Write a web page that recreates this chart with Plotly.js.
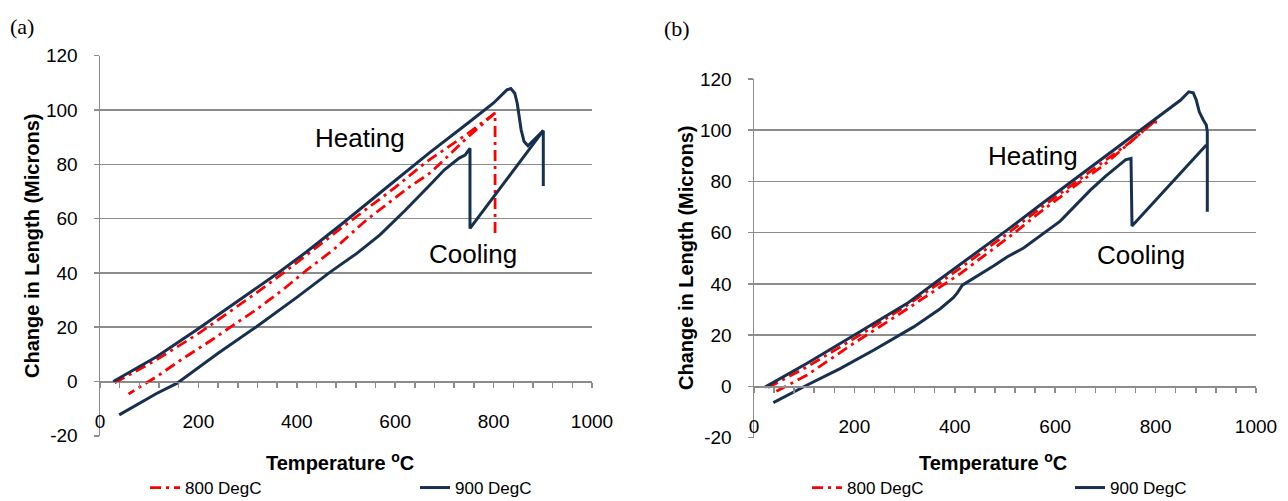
<!DOCTYPE html>
<html>
<head>
<meta charset="utf-8">
<script src="https://cdn.plot.ly/plotly-3.0.1.min.js"></script>
<style>
  html, body { margin: 0; padding: 0; background: #ffffff; overflow: hidden; }
  #chart { width: 1288px; height: 501px; }
</style>
</head>
<body>
<div id="chart"></div>
<script>
// ---------- Data ----------
// Panel (a): 900 DegC  (heating -> 900 hold -> cooling)
var tempA900 = [27, 60, 115, 196, 278, 359, 420, 494, 580, 670, 750, 800, 827, 835, 843, 848, 852, 856, 862, 870, 901, 901, null, 901, 752, 752, 742, 730, 700, 671, 620, 569, 522, 467, 400, 318, 240, 156, 115, 39];
var lenA900  = [0, 3.5, 9.1, 19, 29.4, 39.6, 47.8, 58.4, 71.1, 84.3, 95.5, 102.6, 107.4, 107.9, 106.2, 102.5, 97.6, 92.7, 88.4, 86.8, 92.4, 72, null, 92.4, 56.4, 85.9, 83.4, 82.3, 78, 72.5, 63, 54, 47.2, 40.2, 31, 20.2, 10.4, -0.7, -4.4, -12.3];
// Panel (a): 800 DegC
var tempA800 = [30, 115, 203, 312, 380, 494, 600, 664, 745, 803, 803, null, 803, 770, 745, 710, 671, 630, 542, 474, 420, 373, 318, 271, 227, 169, 115, 58];
var lenA800  = [-0.5, 8, 18, 31.9, 41, 57, 71.5, 81, 91, 98.9, 54.6, null, 98.9, 93.5, 89.6, 83.5, 76.8, 71.8, 59.6, 48.5, 41, 34, 26.5, 20.8, 15.3, 8.5, 1.8, -4.6];

// Panel (b): 900 DegC
var tempB900 = [22, 105, 205, 304.5, 371, 451, 504, 570, 640, 703, 780, 840, 850, 866, 875, 881, 887, 895, 901, 903, 903, null, 901, 753, 751, 740, 723, 700, 670, 610, 537, 504, 477, 437, 415, 405, 397, 371, 318, 238, 171.5, 105, 38.5];
var lenB900  = [-0.3, 8.9, 20.6, 32.3, 41.9, 53.2, 61, 70.8, 81, 90.3, 101.6, 110.4, 111.8, 115, 114.6, 111.8, 107.2, 104, 102, 99.4, 68.2, null, 94.2, 62.6, 89, 88.4, 85.7, 82, 76.6, 64.5, 54, 50.5, 47, 42.1, 39.5, 36.5, 34.6, 30.3, 23.2, 14.1, 6.9, 0.4, -6.4];
// Panel (b): 800 DegC
var tempB800 = [28, 105, 205, 300, 371, 450, 504, 570, 650, 703, 750, 800, 800, null, 800, 760, 696.5, 650, 610, 570, 517, 437, 411, 371, 291, 198, 105, 42];
var lenB800  = [-0.5, 7.5, 19.3, 31, 40.5, 52, 59.5, 69.5, 81, 88.6, 95.4, 103.9, 101, null, 103.9, 97, 86.3, 79.8, 74, 68, 59.6, 47.9, 44, 38.8, 28.4, 16.7, 4.3, -2.2];

var seriesNames = ['800 DegC', '900 DegC'];
var xTicks = [0, 200, 400, 600, 800, 1000];
var yTicks = [-20, 0, 20, 40, 60, 80, 100, 120];

// ---------- Styles ----------
var RED = '#FF0000';
var NAVY = '#17304F';
var GRID = '#8C8C8C';
var FONT = 'Liberation Sans, Arial, sans-serif';
var redLine = { color: RED, width: 2.8, dash: '11px,5px,3px,5px' };
var navyLine = { color: NAVY, width: 3 };

var traces = [
  { x: tempA800, y: lenA800, name: seriesNames[0], mode: 'lines', line: redLine, xaxis: 'x', yaxis: 'y', legend: 'legend', legendwidth: 225, connectgaps: false },
  { x: tempA900, y: lenA900, name: seriesNames[1], mode: 'lines', line: navyLine, xaxis: 'x', yaxis: 'y', legend: 'legend', connectgaps: false },
  { x: tempB800, y: lenB800, name: seriesNames[0], mode: 'lines', line: redLine, xaxis: 'x2', yaxis: 'y2', legend: 'legend2', legendwidth: 218, connectgaps: false },
  { x: tempB900, y: lenB900, name: seriesNames[1], mode: 'lines', line: navyLine, xaxis: 'x2', yaxis: 'y2', legend: 'legend2', connectgaps: false }
];

function xAxis(domain, pos) {
  return {
    domain: domain, range: [0, 1000], anchor: 'free', position: pos,
    tickvals: xTicks, ticktext: xTicks.map(String),
    showline: true, linecolor: GRID, linewidth: 1.5,
    ticks: 'outside', ticklen: 5, tickwidth: 1.5, tickcolor: GRID,
    minor: { dtick: 40, tick0: 0, ticks: 'outside', ticklen: 5, tickwidth: 1.5, tickcolor: GRID, showgrid: false },
    showgrid: false, zeroline: false, fixedrange: true, automargin: false,
    tickfont: { family: FONT, size: 19, color: '#000' },
    ticklabelstandoff: 17
  };
}
function yAxis(domain, anchor) {
  return {
    domain: domain, range: [-20, 120], anchor: anchor,
    tickvals: yTicks, ticktext: yTicks.map(String),
    showgrid: true, gridcolor: GRID, gridwidth: 1.5,
    showline: true, linecolor: GRID, linewidth: 1.5,
    ticks: 'outside', ticklen: 5, tickwidth: 1.5, tickcolor: GRID,
    zeroline: false, fixedrange: true, automargin: false,
    tickfont: { family: FONT, size: 19, color: '#000' },
    ticklabelstandoff: 12
  };
}

function px2x(p) { return p / 1288; }
function py2y(p) { return (501 - p) / 501; }

var annotations = [
  { text: '(a)', x: px2x(22), y: py2y(27), font: { family: 'Liberation Serif, Times New Roman, serif', size: 22, color: '#000' } },
  { text: '(b)', x: px2x(677), y: py2y(29), font: { family: 'Liberation Serif, Times New Roman, serif', size: 22, color: '#000' } },
  { text: '<b>Change in Length (Microns)</b>', x: px2x(32), y: py2y(246), textangle: -90, font: { family: FONT, size: 20, color: '#000' } },
  { text: '<b>Change in Length (Microns)</b>', x: px2x(686), y: py2y(258), textangle: -90, font: { family: FONT, size: 20, color: '#000' } },
  { text: '<b>Temperature <sup>o</sup>C</b>', x: px2x(340), y: py2y(461), font: { family: FONT, size: 20, color: '#000' } },
  { text: '<b>Temperature <sup>o</sup>C</b>', x: px2x(993), y: py2y(461), font: { family: FONT, size: 20, color: '#000' } },
  { text: 'Heating', x: px2x(360), y: py2y(138), font: { family: FONT, size: 26, color: '#000' } },
  { text: 'Cooling', x: px2x(473), y: py2y(254), font: { family: FONT, size: 26, color: '#000' } },
  { text: 'Heating', x: px2x(1033), y: py2y(156), font: { family: FONT, size: 26, color: '#000' } },
  { text: 'Cooling', x: px2x(1141), y: py2y(255), font: { family: FONT, size: 26, color: '#000' } }
].map(function (a) {
  return Object.assign({ xref: 'paper', yref: 'paper', showarrow: false, xanchor: 'center', yanchor: 'middle' }, a);
});

var legendBase = {
  orientation: 'h', xanchor: 'left', yanchor: 'middle', y: py2y(488),
  font: { family: FONT, size: 17, color: '#000' },
  bgcolor: 'rgba(0,0,0,0)', borderwidth: 0, traceorder: 'normal'
};

var layout = {
  width: 1288, height: 501,
  margin: { l: 0, r: 0, t: 0, b: 0, autoexpand: false },
  paper_bgcolor: '#ffffff', plot_bgcolor: '#ffffff',
  showlegend: true,
  xaxis: xAxis([100 / 1288, 592 / 1288], 0.2385),
  yaxis: yAxis([0.1301, 0.8888], 'x'),
  xaxis2: xAxis([754 / 1288, 1256 / 1288], 0.2289),
  yaxis2: yAxis([0.1267, 0.8423], 'x2'),
  legend: Object.assign({}, legendBase, { x: px2x(145) }),
  legend2: Object.assign({}, legendBase, { x: px2x(807) }),
  annotations: annotations
};

Plotly.newPlot('chart', traces, layout, { staticPlot: true, displayModeBar: false });
</script>
</body>
</html>
